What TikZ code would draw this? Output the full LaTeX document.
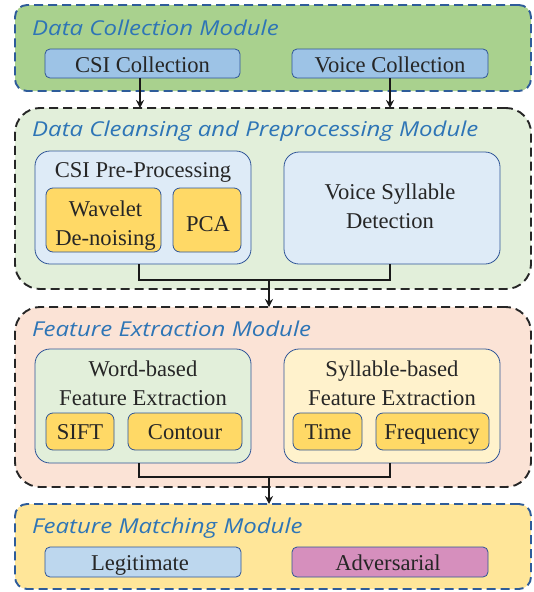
\documentclass[tikz,border=0pt]{standalone}
\usepackage{fontspec}
\setmainfont{Liberation Serif}
\newfontfamily\titlefont{Open Sans}[FakeStretch=1.17]
\usetikzlibrary{arrows.meta}
\definecolor{modblue}{HTML}{2E5C9A}
\definecolor{ttlblue}{HTML}{2E75B6}
\definecolor{bordblue}{HTML}{2F5597}
\definecolor{mgreen}{HTML}{A9D18E}
\definecolor{mlgreen}{HTML}{E2EFDA}
\definecolor{mpeach}{HTML}{FBE3D6}
\definecolor{myellow}{HTML}{FFE699}
\definecolor{cblue}{HTML}{9DC3E6}
\definecolor{lblue}{HTML}{DEEBF7}
\definecolor{orangeb}{HTML}{FFD966}
\definecolor{lyellow}{HTML}{FFF2CC}
\definecolor{legblue}{HTML}{BDD7EE}
\definecolor{advpink}{HTML}{D68FBD}
\tikzset{
  x=1pt, y=-1pt,
  module/.style={draw, line width=1.9pt, dash pattern=on 9pt off 5pt, inner sep=0pt, outer sep=0pt},
  bluemod/.style={module, draw=modblue, rounded corners=12pt},
  blackmod/.style={module, draw=black!85, rounded corners=25pt},
  mtitle/.style={anchor=base west, inner sep=0pt, text=ttlblue, font=\titlefont\itshape\fontsize{20.5}{24}\selectfont},
  box/.style={draw=bordblue, line width=0.8pt, inner sep=0pt, outer sep=0pt},
  smallbox/.style={box, rounded corners=5pt},
  bigbox/.style={box, rounded corners=15pt},
  subbox/.style={box, fill=orangeb, rounded corners=7pt},
  lbl/.style={anchor=base, inner sep=0pt, align=center, text=black!85, font=\fontsize{22.6}{28.3}\selectfont},
  conn/.style={line width=1.9pt, black!90},
  arr/.style={conn, -{Stealth[length=8pt,width=8pt]}}
}
\begin{document}
\begin{tikzpicture}
\useasboundingbox (0,0) rectangle (534,592);
% modules
\node[bluemod, fill=mgreen, minimum width=516pt, minimum height=86pt] (m1) at (273,48) {};
\node[blackmod, fill=mlgreen, minimum width=516pt, minimum height=181pt] (m2) at (273,198.5) {};
\node[blackmod, fill=mpeach, minimum width=516pt, minimum height=180pt] (m3) at (273,397) {};
\node[bluemod, fill=myellow, minimum width=516pt, minimum height=85pt] (m4) at (273,546.5) {};
% titles
\node[mtitle] (t1) at (32,35) {Data Collection Module};
\node[mtitle] (t2) at (32,136) {Data Cleansing and Preprocessing Module};
\node[mtitle] (t3) at (32,336) {Feature Extraction Module};
\node[mtitle] (t4) at (32,533) {Feature Matching Module};
% module 1
\node[smallbox, fill=cblue, minimum width=195pt, minimum height=29pt] (csic) at (142.5,63.5) {};
\node[lbl] (csict) at (142.5,72) {CSI Collection};
\node[smallbox, fill=cblue, minimum width=196pt, minimum height=29pt] (voicec) at (390,63.5) {};
\node[lbl] (voicect) at (390,72) {Voice Collection};
% module 2
\node[bigbox, fill=lblue, minimum width=216pt, minimum height=113pt] (csipp) at (143,207.5) {};
\node[lbl] (csippt) at (143,177) {CSI Pre-Processing};
\node[subbox, minimum width=115pt, minimum height=64pt] (wav) at (103.5,220) {};
\node[lbl] (wavt) at (105.5,245) {Wavelet\\De-noising};
\node[subbox, minimum width=68pt, minimum height=64pt] (pca) at (207,220) {};
\node[lbl] (pcat) at (208,231) {PCA};
\node[bigbox, fill=lblue, minimum width=216pt, minimum height=112pt] (vsd) at (392,208) {};
\node[lbl] (vsdt) at (390,228) {Voice Syllable\\Detection};
% module 3
\node[bigbox, fill=mlgreen, minimum width=216pt, minimum height=114pt] (wfe) at (143,406) {};
\node[lbl] (wfet) at (143,405) {Word-based\\Feature Extraction};
\node[bigbox, fill=lyellow, minimum width=216pt, minimum height=114pt] (sfe) at (392,406) {};
\node[lbl] (sfet) at (392,405) {Syllable-based\\Feature Extraction};
\node[subbox, minimum width=68pt, minimum height=37pt] (sift) at (80,431.5) {};
\node[lbl] (siftt) at (80,439) {SIFT};
\node[subbox, minimum width=114pt, minimum height=37pt] (contour) at (185,431.5) {};
\node[lbl] (contourt) at (185,439) {Contour};
\node[subbox, minimum width=69pt, minimum height=37pt] (time) at (327.5,431.5) {};
\node[lbl] (timet) at (328,439) {Time};
\node[subbox, minimum width=113pt, minimum height=37pt] (freq) at (432.5,431.5) {};
\node[lbl] (freqt) at (432,439) {Frequency};
% module 4
\node[smallbox, fill=legblue, minimum width=196pt, minimum height=30pt] (legit) at (143,562) {};
\node[lbl] (legitt) at (140,570) {Legitimate};
\node[smallbox, fill=advpink, minimum width=196pt, minimum height=30pt] (adv) at (390,562) {};
\node[lbl] (advt) at (388,570) {Adversarial};
% connectors
\draw[arr] ([xshift=-2.5pt]csic.south) -- ([xshift=-2.5pt]csic.south |- m2.north);
\draw[arr] (voicec.south) -- (voicec.south |- m2.north);
\coordinate (j1) at (269,280);
\draw[conn] ([xshift=-4pt]csipp.south) |- ([xshift=-2pt]vsd.south |- j1) -- ([xshift=-2pt]vsd.south);
\draw[arr] (j1) -- (j1 |- m3.north);
\coordinate (j2) at (269,477);
\draw[conn] ([xshift=-4pt]wfe.south) |- ([xshift=-2pt]sfe.south |- j2) -- ([xshift=-2pt]sfe.south);
\draw[arr] (j2) -- (j2 |- m4.north);
\end{tikzpicture}
\end{document}
